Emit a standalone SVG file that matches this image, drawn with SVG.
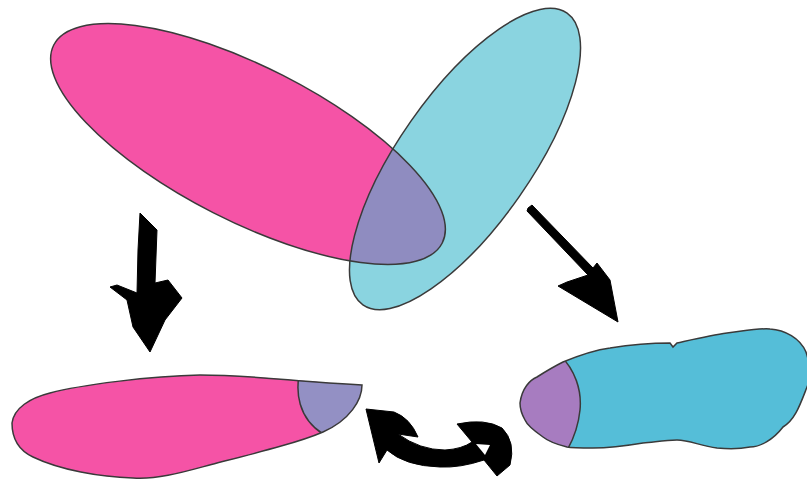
<svg xmlns="http://www.w3.org/2000/svg" width="807" height="480" viewBox="0 0 807 480">
  <style>
    .ol { stroke: #3a3a3a; stroke-width: 1.5; }
    .nofill { fill: none; }
    .arrow { fill: #000; stroke: #000; stroke-width: 1; stroke-linejoin: round; }
  </style>
  <defs>
    <clipPath id="clipCyan">
      <ellipse cx="465" cy="159" rx="178" ry="66" transform="rotate(-55 465 159)"/>
    </clipPath>
    <clipPath id="clipBlobPink">
      <path d="M 12,423 C 14,408 30,398 50,393 C 80,385 150,376 200,375 C 250,375 290,381 362,385 C 362,400 350,420 323,432 C 300,442 260,452 217,463 C 190,470 160,480 133,478 C 100,477 60,470 33,457 C 18,450 12,437 12,423 Z"/>
    </clipPath>
    <clipPath id="clipBlobCyan">
      <path d="M 520,403 C 522,388 530,380 537,377 C 548,370 555,366 563,362 C 580,355 595,350 610,348 C 635,344 655,343 670,343 L 673,347 L 677,343 C 695,339 712,335 727,333 C 750,330 760,328 770,329 C 785,330 800,338 806,352 C 812,370 810,380 807,387 C 800,405 795,420 783,427 C 773,440 760,447 750,447 C 740,449 728,449 717,448 C 700,446 690,440 677,440 C 665,440 655,442 643,443 C 625,446 610,448 593,448 C 580,448 572,448 567,447 C 555,444 548,441 543,437 C 533,430 527,425 525,420 C 521,413 520,408 520,403 Z"/>
    </clipPath>
  </defs>
  <rect width="807" height="480" fill="#ffffff"/>

  <g id="ellipse-pink">
    <ellipse cx="248" cy="144" rx="218" ry="77" transform="rotate(27 248 144)" fill="#f553a6"/>
  </g>
  <g id="ellipse-cyan">
    <ellipse cx="465" cy="159" rx="178" ry="66" transform="rotate(-55 465 159)" fill="#8ad4e0"/>
  </g>
  <g id="overlap">
    <g clip-path="url(#clipCyan)">
      <ellipse cx="248" cy="144" rx="218" ry="77" transform="rotate(27 248 144)" fill="#8f8cc0"/>
    </g>
    <ellipse class="ol nofill" cx="248" cy="144" rx="218" ry="77" transform="rotate(27 248 144)"/>
    <ellipse class="ol nofill" cx="465" cy="159" rx="178" ry="66" transform="rotate(-55 465 159)"/>
  </g>

  <g id="blob-pink">
    <path fill="#f553a6" d="M 12,423 C 14,408 30,398 50,393 C 80,385 150,376 200,375 C 250,375 290,381 362,385 C 362,400 350,420 323,432 C 300,442 260,452 217,463 C 190,470 160,480 133,478 C 100,477 60,470 33,457 C 18,450 12,437 12,423 Z"/>
    <g clip-path="url(#clipBlobPink)">
      <path class="ol" fill="#9390c4" d="M 300,370 C 295,392 298,418 323,434 L 375,434 L 375,370 Z"/>
    </g>
    <path class="ol nofill" d="M 12,423 C 14,408 30,398 50,393 C 80,385 150,376 200,375 C 250,375 290,381 362,385 C 362,400 350,420 323,432 C 300,442 260,452 217,463 C 190,470 160,480 133,478 C 100,477 60,470 33,457 C 18,450 12,437 12,423 Z"/>
  </g>

  <g id="blob-cyan">
    <path fill="#55bed8" d="M 520,403 C 522,388 530,380 537,377 C 548,370 555,366 563,362 C 580,355 595,350 610,348 C 635,344 655,343 670,343 L 673,347 L 677,343 C 695,339 712,335 727,333 C 750,330 760,328 770,329 C 785,330 800,338 806,352 C 812,370 810,380 807,387 C 800,405 795,420 783,427 C 773,440 760,447 750,447 C 740,449 728,449 717,448 C 700,446 690,440 677,440 C 665,440 655,442 643,443 C 625,446 610,448 593,448 C 580,448 572,448 567,447 C 555,444 548,441 543,437 C 533,430 527,425 525,420 C 521,413 520,408 520,403 Z"/>
    <g clip-path="url(#clipBlobCyan)">
      <path class="ol" fill="#a77cc0" d="M 560,355 C 575,370 582,390 580,410 C 578,430 572,442 566,452 L 505,452 L 505,355 Z"/>
    </g>
    <path class="ol nofill" d="M 520,403 C 522,388 530,380 537,377 C 548,370 555,366 563,362 C 580,355 595,350 610,348 C 635,344 655,343 670,343 L 673,347 L 677,343 C 695,339 712,335 727,333 C 750,330 760,328 770,329 C 785,330 800,338 806,352 C 812,370 810,380 807,387 C 800,405 795,420 783,427 C 773,440 760,447 750,447 C 740,449 728,449 717,448 C 700,446 690,440 677,440 C 665,440 655,442 643,443 C 625,446 610,448 593,448 C 580,448 572,448 567,447 C 555,444 548,441 543,437 C 533,430 527,425 525,420 C 521,413 520,408 520,403 Z"/>
  </g>

  <g id="connectors">
    <path id="arrow-left" class="arrow" d="M 140,213 L 157,230 L 155,283 L 168,280 L 182,298 L 165,320 L 150,352 L 133,327 L 127,300 L 110,287 L 117,285 L 137,293 L 138,250 Z"/>
    <path id="arrow-right" class="arrow" d="M 528,208 L 532,205 L 593,268 L 597,263 L 610,280 L 618,322 L 598,310 L 558,286 L 567,282 L 588,275 L 527,211 Z"/>
    <path id="arrow-swap" class="arrow" d="M 366,409 L 394,412 Q 410,418 418,437 L 398,434 Q 420,450 445,450 Q 462,449 472,442 L 457,424 Q 485,418 502,428 Q 516,442 510,465 L 497,476 L 484,460 Q 460,468 440,467 Q 405,466 387,450 L 379,463 Z"/>
    <path fill="#ffffff" d="M 476,444 L 490,445 L 485,455 Z"/>
  </g>
</svg>
